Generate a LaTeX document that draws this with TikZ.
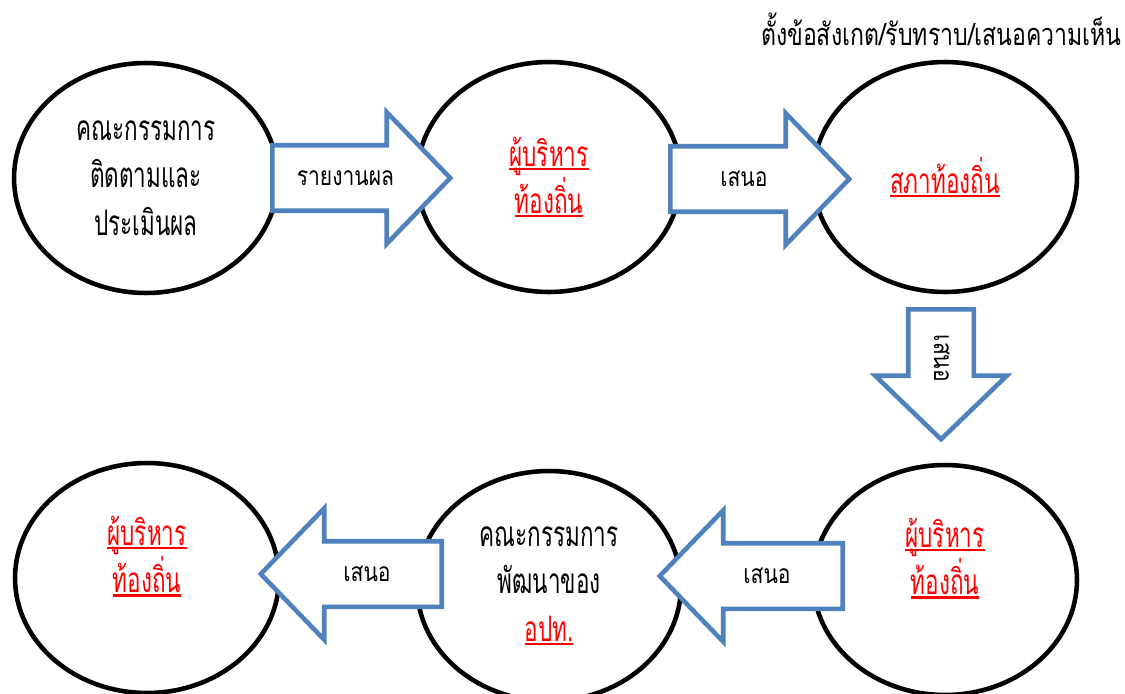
\documentclass[tikz,border=0pt]{standalone}
\usepackage{fontspec}
\newfontfamily\thai[Script=Thai, FakeStretch=0.64]{Loma}
\newfontfamily\thaiarrow[Script=Thai, FakeStretch=0.8]{Loma}
\newfontfamily\thainote[Script=Thai, FakeStretch=0.75]{Loma}
\usepackage{xcolor}
\usetikzlibrary{shapes.geometric,shapes.arrows}
\definecolor{arrowblue}{RGB}{79,129,189}
\definecolor{thred}{RGB}{255,0,0}
\newcommand{\redline}[1]{\setbox0\hbox{#1}\rlap{\rule[-0.11em]{\wd0}{0.065em}}\box0}
\tikzset{
  bubble/.style={draw=black, line width=2.6pt, ellipse, minimum width=5.28cm, minimum height=4.6cm,
    align=center, inner sep=0pt, font=\thai\fontsize{20}{27}\selectfont},
  redtext/.style={text=thred},
  blockarrow/.style={draw=arrowblue, fill=white, line width=2.6pt, single arrow,
    single arrow head extend=0.66cm, single arrow tip angle=92,
    text height=0.75cm, text depth=0.47cm, inner ysep=0pt,
    font=\thaiarrow\fontsize{15}{18}\selectfont}
}
\begin{document}
\begin{tikzpicture}[x=0.02cm, y=-0.02cm]
  \useasboundingbox (0,0) rectangle (1125,693);
  % top row
  \node[bubble] (monitor) at (146,178) {คณะกรรมการ\\ติดตามและ\\ประเมินผล};
  \node[bubble, redtext] (exec1) at (549,177) {\redline{ผู้บริหาร}\\\redline{ท้องถิ่น}};
  \node[bubble, redtext] (council) at (945,177) {\redline{สภาท้องถิ่น}};
  % bottom row
  \node[bubble, redtext] (exec2) at (945,580) {\redline{ผู้บริหาร}\\\redline{ท้องถิ่น}\\\mbox{}};
  \node[bubble] (devcom) at (549,586) {คณะกรรมการ\\พัฒนาของ\\\textcolor{thred}{\redline{อปท.}}};
  \node[bubble, redtext] (exec3) at (147,578) {\redline{ผู้บริหาร}\\\redline{ท้องถิ่น}\\\mbox{}};
  % block arrows
  \node[blockarrow, minimum height=3.56cm, anchor=tail] (report) at (270,178) {รายงานผล};
  \node[blockarrow, minimum height=3.58cm, anchor=tail] (propose1) at (668,179) {เสนอ};
  \node[blockarrow, minimum height=2.6cm, anchor=tail, rotate=-90] (propose2) at (941,307) {เสนอ};
  \node[blockarrow, minimum height=3.66cm, anchor=tail, shape border rotate=180] (propose3) at (845,576) {เสนอ};
  \node[blockarrow, minimum height=3.62cm, anchor=tail, shape border rotate=180] (propose4) at (444,574) {เสนอ};
  % note
  \node[anchor=east, inner sep=0pt, font=\thainote\fontsize{17.5}{20}\selectfont] (note) at (1122,29) {ตั้งข้อสังเกต/รับทราบ/เสนอความเห็น};
\end{tikzpicture}
\end{document}
